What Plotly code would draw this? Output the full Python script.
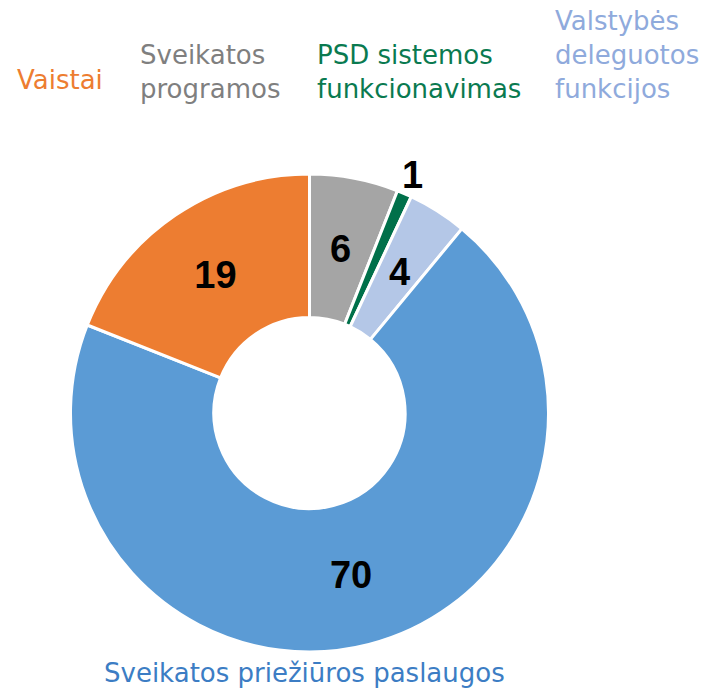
import math
import plotly.graph_objects as go

categories = ["Sveikatos programos", "PSD sistemos funkcionavimas", "Valstybės deleguotos funkcijos",
              "Sveikatos priežiūros paslaugos", "Vaistai"]
values = [6, 1, 4, 70, 19]
slice_colors = ["#A5A5A5", "#00704A", "#B4C7E7", "#5B9BD5", "#ED7D31"]
# narrow slices get their value printed by annotation (plotly would push it outward)
text_positions = ["none", "none", "none", "inside", "inside"]
annot_radius = [0.70, 1.085, 0.70, None, None]   # fraction of outer radius

label_texts = ["Sveikatos<br>programos", "PSD sistemos<br>funkcionavimas", "Valstybės<br>deleguotos<br>funkcijos",
               "Sveikatos priežiūros paslaugos", "Vaistai"]
label_colors = ["#7F7F7F", "#0A7A50", "#8FAADC", "#3C7DC4", "#ED7D31"]

W, H = 702, 690
cx, cy, R = 309.5, 413, 239
HOLE = 0.40

num_font = dict(family="Liberation Sans", size=38, color="black", weight="bold")

fig = go.Figure(go.Pie(
    labels=categories, values=values, sort=False, direction="clockwise", rotation=0,
    hole=HOLE,
    marker=dict(colors=slice_colors, line=dict(color="white", width=3)),
    texttemplate="%{value}", textposition=text_positions,
    insidetextorientation="horizontal",
    textfont=num_font, outsidetextfont=num_font,
    showlegend=False, hoverinfo="label+value",
    domain=dict(x=[(cx - R) / W, (cx + R) / W], y=[(H - cy - R) / H, (H - cy + R) / H]),
))

# value labels for narrow slices, angle derived from the data
total = sum(values)
cum = 0
for v, rf in zip(values, annot_radius):
    ang = 2 * math.pi * (cum + v / 2) / total
    cum += v
    if rf is None:
        continue
    px = cx + rf * R * math.sin(ang)
    py = cy - rf * R * math.cos(ang)
    fig.add_annotation(x=px / W, y=1 - py / H, xref="paper", yref="paper", text=str(v), showarrow=False,
                       xanchor="center", yanchor="middle", font=num_font)

# category labels: (x, y, xanchor) in pixels from top-left
label_pos = [(138, 72, "left"), (315, 72, "left"), (553, 55, "left"), (304, 673, "center"), (15, 80, "left")]
for txt, col, (x, y, xa) in zip(label_texts, label_colors, label_pos):
    fig.add_annotation(x=x / W, y=1 - y / H, xref="paper", yref="paper", text=txt, showarrow=False,
                       xanchor=xa, yanchor="middle", align="left",
                       font=dict(family="DejaVu Sans", size=26, color=col))

fig.update_layout(width=W, height=H, margin=dict(l=0, r=0, t=0, b=0),
                  paper_bgcolor="white", plot_bgcolor="white")
fig.write_html("out.html", config={"displayModeBar": False},
               post_script="document.body.style.margin='0';")
